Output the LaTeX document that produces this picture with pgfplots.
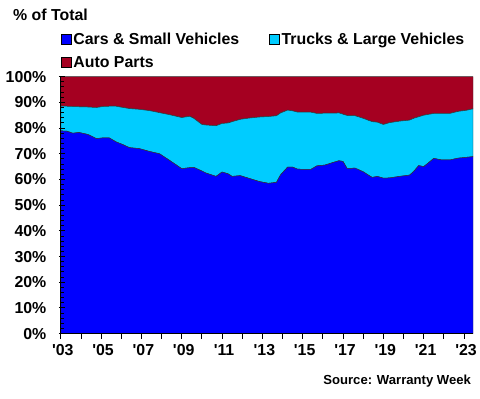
\documentclass[border=0pt]{standalone}
\usepackage{fontspec}
\setmainfont{Liberation Sans}
\usepackage{pgfplots}
\pgfplotsset{compat=1.18}
\usepackage{pgfplotstable}
\definecolor{cars}{RGB}{0,0,255}
\definecolor{trucks}{RGB}{0,204,255}
\definecolor{parts}{RGB}{165,0,33}
\pgfplotstableread{
year cars cum
2003.0 78.9 88.6
2003.3 78.8 88.5
2003.6 78.0 88.4
2003.9 78.3 88.3
2004.35 77.5 88.2
2004.77 75.9 88.0
2005.1 76.2 88.4
2005.4 76.2 88.5
2005.75 74.6 88.5
2006.1 73.5 88.0
2006.4 72.4 87.6
2006.9 72.0 87.3
2007.4 70.9 86.8
2007.9 70.0 86.0
2008.4 67.4 85.2
2009.0 64.2 84.1
2009.4 64.6 84.6
2009.6 64.7 83.8
2010.0 63.3 81.4
2010.2 62.5 81.2
2010.7 61.2 80.9
2011.0 62.9 81.8
2011.3 62.2 82.0
2011.5 61.2 82.5
2011.9 61.5 83.4
2012.35 60.4 83.9
2012.85 59.2 84.3
2013.3 58.5 84.5
2013.7 58.9 84.8
2013.9 61.8 85.9
2014.25 64.8 87.0
2014.5 64.8 86.7
2014.75 64.0 86.2
2015.4 63.9 86.2
2015.7 65.3 85.7
2016.1 65.6 85.8
2016.5 66.6 85.8
2016.8 67.3 85.9
2017.0 67.0 85.4
2017.2 64.3 84.9
2017.6 64.4 84.8
2018.0 63.0 83.8
2018.3 61.5 82.9
2018.45 60.8 82.5
2018.7 61.2 82.3
2019.0 60.5 81.4
2019.3 60.6 82.1
2019.8 61.2 82.7
2020.3 61.7 83.1
2020.5 63.1 83.8
2020.75 65.4 84.4
2021.0 65.0 85.0
2021.5 68.2 85.7
2021.9 67.6 85.7
2022.3 67.6 85.7
2022.7 68.3 86.5
2023.1 68.6 86.9
2023.45 68.9 87.5
}\data
\begin{document}
\begin{tikzpicture}
\begin{axis}[
  scale only axis,
  width=414bp, height=258bp,
  xmin=2003, xmax=2023.45,
  ymin=0, ymax=100,
  stack plots=y,
  area style,
  axis on top,
  axis lines=left,
  axis line style={-, line width=1.2pt, black},
  xtick={2003,2004,...,2023},
  xticklabels={\textquotesingle03,,\textquotesingle05,,\textquotesingle07,,\textquotesingle09,,\textquotesingle11,,\textquotesingle13,,\textquotesingle15,,\textquotesingle17,,\textquotesingle19,,\textquotesingle21,,\textquotesingle23},
  ytick={0,10,...,100},
  minor y tick num=4,
  yticklabel={\pgfmathprintnumber{\tick}\%},
  tick align=inside,
  major tick length=6bp,
  minor tick length=3.5bp,
  every major x tick/.append style={yshift=-5bp, line width=0.8pt, black},
  every major y tick/.append style={xshift=-1.8bp, line width=1pt, black},
  every minor y tick/.append style={line width=1pt, black},
  /pgf/number format/assume math mode=true,
  ticklabel style={font=\bfseries\fontsize{16}{17}\selectfont},
  xticklabel style={yshift=-7bp, xshift=2bp},
  yticklabel style={xshift=-11bp},
  legend columns=2,
  legend cell align=left,
  legend style={at={(0,1)}, anchor=south west, draw=none, fill=none,
    inner sep=0pt, xshift=0bp, yshift=6bp,
    font=\bfseries\fontsize{16}{17}\selectfont,
    /tikz/every even column/.append style={column sep=28bp},
    row sep=6bp},
  legend image code/.code={\draw[#1,draw=black,line width=0.5pt] (0bp,-5bp) rectangle (10bp,5bp);},
]
\addplot[fill=cars, draw=black!80, line width=0.5pt] table[x=year,y=cars]{\data} \closedcycle;
\addplot[fill=trucks, draw=black!80, line width=0.5pt] table[x=year,y expr=\thisrow{cum}-\thisrow{cars}]{\data} \closedcycle;
\addplot[fill=parts, draw=black!80, line width=0.5pt] table[x=year,y expr=100-\thisrow{cum}]{\data} \closedcycle;
\legend{Cars \& Small Vehicles, Trucks \& Large Vehicles, Auto Parts}
\coordinate (tl) at (rel axis cs:0,1);
\coordinate (br) at (rel axis cs:1,0);
\end{axis}
\node[anchor=west, font=\bfseries\fontsize{16}{17}\selectfont, inner sep=0pt] at ([xshift=-48bp,yshift=62bp]tl) {\% of Total};
\node[anchor=east, font=\bfseries\fontsize{13.2}{14}\selectfont, inner sep=0pt] at ([xshift=-2bp,yshift=-48bp]br) {Source: Warranty Week};
\path[use as bounding box] ([shift={(-61bp,77bp)}]tl) rectangle ([shift={(5bp,-65bp)}]br);
\end{tikzpicture}
\end{document}
